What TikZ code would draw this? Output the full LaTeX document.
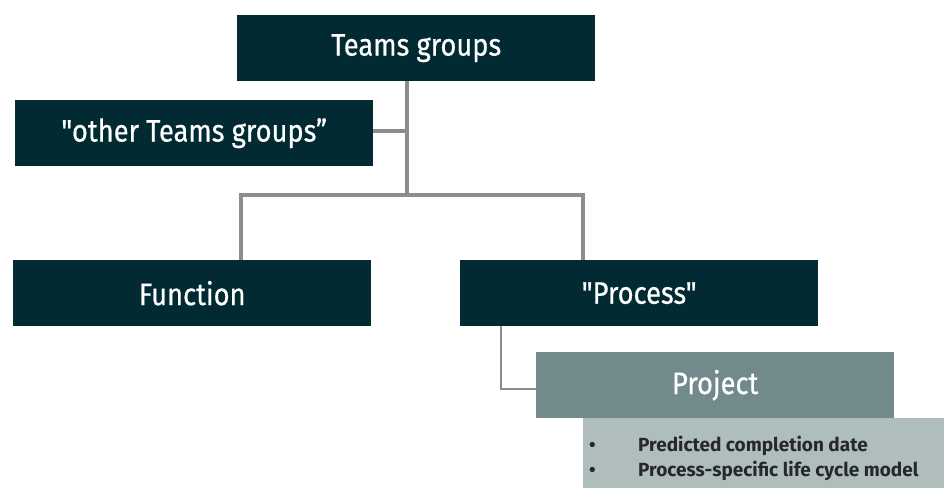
\documentclass[tikz,border=0pt]{standalone}
\usepackage{fontspec}
\setmainfont{Fira Sans}
\newfontfamily\boxfont[FakeStretch=0.88,FakeBold=0.6]{Fira Sans}
\definecolor{darkteal}{HTML}{022A33}
\definecolor{projcol}{HTML}{728A8C}
\definecolor{listcol}{HTML}{B0BDBD}
\definecolor{linegray}{HTML}{8C8C8E}
\definecolor{listtext}{HTML}{26282A}
\begin{document}
\begin{tikzpicture}[x=1pt,y=-1pt,
  darkbox/.style={fill=darkteal, text=white, inner sep=0pt, minimum width=358pt, minimum height=66pt, anchor=north west, font=\boxfont\fontsize{31}{34}\selectfont},
  projbox/.style={fill=projcol, text=white, inner sep=0pt, minimum width=358pt, minimum height=66pt, anchor=north west, font=\boxfont\fontsize{31}{34}\selectfont},
  listbox/.style={fill=listcol, inner sep=0pt, minimum width=361pt, minimum height=70pt, anchor=north west},
  conn/.style={draw=linegray, line width=4pt},
  thinconn/.style={draw=linegray, line width=2.5pt}
]
\useasboundingbox (0,0) rectangle (944,488);
\node[darkbox] (teams) at (237,15) {Teams groups};
\node[darkbox] (other) at (15,100) {"other Teams groups”};
\node[darkbox] (func) at (13,260) {Function};
\node[darkbox] (proc) at (460,260) {"Process"};
\node[projbox] (proj) at (536,352) {Project};
\node[listbox] (list) at (583,418) {};
\node[anchor=north west, align=left, inner sep=0pt, text=listtext,
      font=\fontsize{19}{25}\selectfont\bfseries] (items) at (589,436)
  {\makebox[49pt][l]{•}Predicted completion date\\\makebox[49pt][l]{•}Process-specific life cycle model};
% connectors
\coordinate (jtop) at (407,195);
\coordinate (jother) at (407,131);
\coordinate (jl) at (241,195);
\coordinate (jr) at (583,195);
\coordinate (jp) at (501,389);
\draw[conn] (teams.south -| jtop) -- (jtop);
\draw[conn] (jother) -- (other.east |- jother);
\draw[conn, line cap=rect] (jl) -- (jr);
\draw[conn] (jl) -- (func.north -| jl);
\draw[conn] (jr) -- (proc.north -| jr);
\draw[thinconn] (proc.south -| jp) -- (jp) -- (proj.west |- jp);
\end{tikzpicture}
\end{document}
